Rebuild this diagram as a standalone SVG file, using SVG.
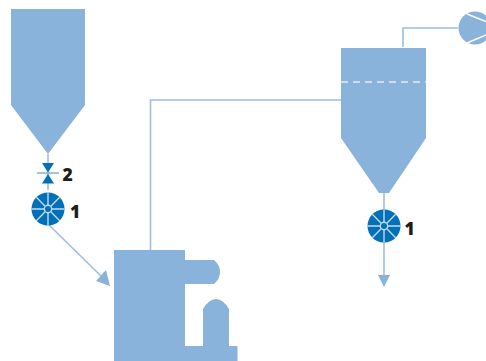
<svg xmlns="http://www.w3.org/2000/svg" width="486" height="361" viewBox="0 0 486 361">
<defs><style>
.f{fill:#8ab3db}
.c{fill:none;stroke:#9cbfe2;stroke-width:1.6}
.b{fill:#0270b8}
.s{fill:none;stroke:#c3d9ee;stroke-width:1.4}
.t{font-family:"Open Sans","Liberation Sans",sans-serif;font-weight:800;font-size:17.5px;fill:#1d1d1b}
</style>
<g id="rv"><circle r="16.5" class="b"/><path class="s" d="M-16.5 0H-4M4 0H16.5M0-16.5V-4M0 4V16.5M-11.7-11.7L-2.8-2.800M2.800 2.800L11.700 11.700M-11.700 11.700L-2.800 2.800M2.800-2.800L11.700-11.700"/><circle r="3.700" fill="#0270b8" stroke="#c3d9ee" stroke-width="1.400"/></g>
</defs>
<rect width="486" height="361" fill="#fff"/>
<g id="connectors">
<path class="c" d="M48 154V190"/>
<path class="c" d="M48 224L101 276"/>
<path class="f" d="M110 286L96 281L106 270Z"/>
<path class="c" d="M150.500 250V100H341"/>
<path class="c" d="M403 47V28H458"/>
<path class="c" d="M384 193V276"/>
<path class="f" d="M378 275H390L384 287Z"/>
</g>
<g id="hopper"><path class="f" d="M11 9H85V105L48 154L11 105Z"/></g>
<g id="valve">
<path class="b" d="M42 163H54L48 172.500ZM42 183.500H54L48 174Z"/>
<path d="M37 173H59" fill="none" stroke="#8ab3db" stroke-width="1.600"/>
<text x="62.500" y="180.700" class="t">2</text>
</g>
<g id="feeder1"><use href="#rv" x="48" y="209"/><text x="70" y="217.500" class="t">1</text></g>
<g id="machine"><path class="f" d="M114 250H185V260H214Q220 265 220 272Q220 279 214 284H185V346H203V309Q209 299 216 299Q223 299 229 309V346H237.500V361H114Z"/></g>
<g id="cyclone">
<path class="f" d="M341 48H426V138L389 193H379L341 138Z"/>
<path d="M341 82H426" fill="none" stroke="#e3edf7" stroke-width="1.500" stroke-dasharray="7 5"/>
</g>
<g id="feeder2"><use href="#rv" x="384" y="226"/><text x="404.500" y="234.500" class="t">1</text></g>
<g id="fan"><circle cx="475" cy="28" r="16.500" class="f"/><path d="M467 14L486 21.500M467 43L486 35" fill="none" stroke="#fff" stroke-width="1.400"/></g>
</svg>
